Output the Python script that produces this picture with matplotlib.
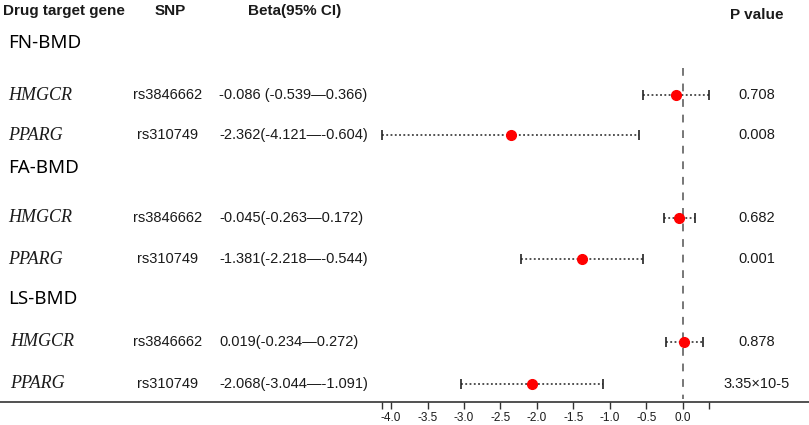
import numpy as np
import matplotlib
matplotlib.use("Agg")
import matplotlib.pyplot as plt

# data
groups = ["FN-BMD", "FA-BMD", "LS-BMD"]
genes = ["HMGCR", "PPARG"]
snps = ["rs3846662", "rs310749"]
beta = [-0.086, -2.362, -0.045, -1.381, 0.019, -2.068]
ci_low = [-0.539, -4.121, -0.263, -2.218, -0.234, -3.044]
ci_high = [0.366, -0.604, 0.172, -0.544, 0.272, -1.091]
beta_text = ["-0.086 (-0.539\u20140.366)", "-2.362(-4.121\u2014-0.604)",
             "-0.045(-0.263\u20140.172)", "-1.381(-2.218\u2014-0.544)",
             "0.019(-0.234\u20140.272)", "-2.068(-3.044\u2014-1.091)"]
p_text = ["0.708", "0.008", "0.682", "0.001", "0.878", "3.35\u00d710-5"]
xticks = [-4.0, -3.5, -3.0, -2.5, -2.0, -1.5, -1.0, -0.5, 0.0]

# layout (pixels)
W, H = 809, 425
x0_px, px_per_unit = 682.7, 72.9
group_y = [43, 168, 299]
row_y = [95, 135, 218, 259, 342, 384]
axis_y = 402

fig = plt.figure(figsize=(W / 100, H / 100), dpi=100)
ax = fig.add_axes([0, 0, 1, 1])
ax.set_xlim(-x0_px / px_per_unit, (W - x0_px) / px_per_unit)
ax.set_ylim(H, 0)

sans = "Liberation Sans"
col = "#1a1a1a"

def fx(px):
    return px / W

def fy(py):
    return 1 - py / H

# headers
fig.text(fx(3), fy(11), "Drug target gene", fontsize=11, fontweight="bold", family=sans, color=col, va="center")
fig.text(fx(155), fy(11), "SNP", fontsize=11, fontweight="bold", family=sans, color=col, va="center")
fig.text(fx(248), fy(11), "Beta(95% CI)", fontsize=11, fontweight="bold", family=sans, color=col, va="center")
fig.text(fx(757), fy(15), "P value", fontsize=11, fontweight="bold", family=sans, color=col, va="center", ha="center")

for g, gy in zip(groups, group_y):
    fig.text(fx(8), fy(gy), g, fontsize=13.5, family="Noto Sans", color="black", va="center")

for i, ry in enumerate(row_y):
    fig.text(fx(8 if i < 4 else 10), fy(ry), genes[i % 2], fontsize=13, family="Liberation Serif",
             style="italic", color=col, va="center")
    fig.text(fx(168), fy(ry), snps[i % 2], fontsize=10.5, family=sans, color=col, va="center", ha="center")
    fig.text(fx(219), fy(ry), beta_text[i], fontsize=10.5, family=sans, color=col, va="center")
    fig.text(fx(757), fy(ry), p_text[i], fontsize=10.5, family=sans, color=col, va="center", ha="center")

# forest
beta = np.array(beta)
err = np.array([beta - np.array(ci_low), np.array(ci_high) - beta])
eb = ax.errorbar(beta, row_y, xerr=err, fmt="none", ecolor="#222222", elinewidth=1.1,
                 capsize=3.3, capthick=1.2, zorder=2)
eb[2][0].set_linestyle((0, (1.2, 1.6)))
ax.plot(beta, row_y, "o", color="#ff0000", markersize=7, zorder=3)
ax.plot([0, 0], [68, 399], color="#777777", lw=1.4, ls=(0, (4, 4)), zorder=1)

# axis
for s in ["top", "left", "right"]:
    ax.spines[s].set_visible(False)
ax.spines["bottom"].set_position(("data", axis_y))
ax.spines["bottom"].set_color("#333333")
ax.spines["bottom"].set_linewidth(1.2)
ax.set_yticks([])
ticks = [min(ci_low)] + xticks + [max(ci_high)]
ax.set_xticks(ticks)
ax.set_xticklabels([""] + ["%.1f" % t for t in xticks] + [""], fontsize=8.5, family=sans, color=col)
ax.tick_params(axis="x", direction="out", length=5, width=1, color="#333333", pad=2)

fig.savefig("out.png", dpi=100)
